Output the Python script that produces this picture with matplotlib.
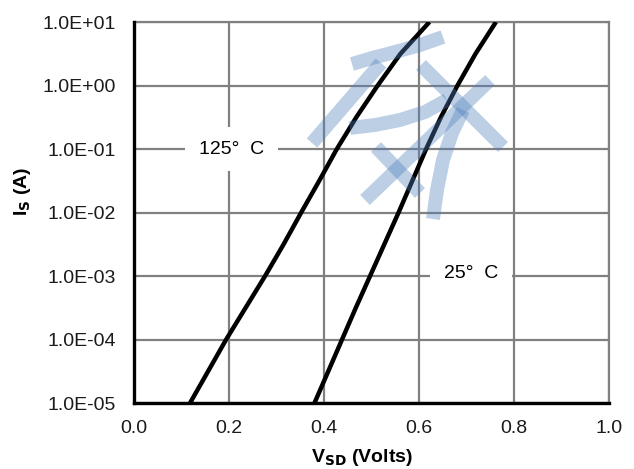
import matplotlib
matplotlib.use("Agg")
import matplotlib.pyplot as plt
import numpy as np

# Data
current = [1e-5, 10**-4.5, 1e-4, 10**-3.5, 1e-3, 10**-2.5, 1e-2, 10**-1.5, 1e-1, 10**-0.5, 1e0, 10**0.5, 1e1]
v_125 = [0.118, 0.156, 0.194, 0.235, 0.276, 0.315, 0.352, 0.390, 0.427, 0.468, 0.513, 0.561, 0.622]
v_25 = [0.380, 0.409, 0.438, 0.467, 0.497, 0.527, 0.557, 0.586, 0.615, 0.646, 0.681, 0.719, 0.762]
x_ticks = [0.0, 0.2, 0.4, 0.6, 0.8, 1.0]
x_tick_labels = ["0.0", "0.2", "0.4", "0.6", "0.8", "1.0"]
y_ticks = [1e-5, 1e-4, 1e-3, 1e-2, 1e-1, 1e0, 1e1]
y_tick_labels = ["1.0E-05", "1.0E-04", "1.0E-03", "1.0E-02", "1.0E-01", "1.0E+00", "1.0E+01"]
label_125 = "125°  C"
label_25 = "25°  C"

plt.rcParams['font.family'] = ['Liberation Sans', 'DejaVu Sans']

W, H = 634, 469
fig = plt.figure(figsize=(W / 100, H / 100), dpi=100)
ax = fig.add_axes([134 / W, 1 - 403 / H, (609 - 134) / W, (403 - 22) / H])

grid_c = '#808080'
ax.set_xlim(0, 1.0)
ax.set_yscale('log')
ax.set_ylim(1e-5, 1e1)
ax.set_xticks(x_ticks)
ax.set_xticklabels(x_tick_labels)
ax.set_yticks(y_ticks)
ax.set_yticklabels(y_tick_labels)
ax.minorticks_off()
ax.tick_params(axis='y', length=0, labelsize=14, pad=13, colors='#1a1a1a')
ax.tick_params(axis='x', length=0, labelsize=14, pad=12, colors='#1a1a1a')
ax.grid(True, color=grid_c, linewidth=1.6, zorder=0)
ax.set_axisbelow(True)
for s in ['top', 'right']:
    ax.spines[s].set_color(grid_c)
    ax.spines[s].set_linewidth(1.6)
for s in ['left', 'bottom']:
    ax.spines[s].set_color('black')
    ax.spines[s].set_linewidth(2.4)
    ax.spines[s].set_zorder(5)

ax.plot(v_125, current, color='black', linewidth=3.2, zorder=3, solid_capstyle='butt',
        solid_joinstyle='round')
ax.plot(v_25, current, color='black', linewidth=3.2, zorder=3, solid_capstyle='butt',
        solid_joinstyle='round')

ax.text(0.206, 1e-1, label_125, fontsize=14, ha='center', va='center', zorder=4,
        bbox=dict(facecolor='white', edgecolor='none', pad=10))
ax.text(0.71, 1.1e-3, label_25, fontsize=14, ha='center', va='center', zorder=4,
        bbox=dict(facecolor='white', edgecolor='none', pad=10))

ax.set_xlabel(r"V$_{\mathbf{SD}}$ (Volts)", fontsize=14, fontweight='bold', labelpad=8)
ax.xaxis.set_label_coords(0.48, -0.115)
ax.set_ylabel(r"I$_{\mathbf{S}}$ (A)", fontsize=14, fontweight='bold', labelpad=8)
ax.yaxis.set_label_coords(-0.212, 0.555)

# Watermark overlay (decorative strokes, pixel coordinates)
ov = fig.add_axes([0, 0, 1, 1], zorder=10)
ov.set_xlim(0, W)
ov.set_ylim(H, 0)
ov.axis('off')
ov.patch.set_alpha(0)
wm = dict(color='#4F81BD', alpha=0.38, linewidth=10, solid_capstyle='butt', solid_joinstyle='round')
strokes = [
    ([352, 372, 395, 420, 443], [64, 58, 52, 45, 37]),
    ([381, 312], [63, 143]),
    ([350, 375, 400, 425, 447], [128, 125, 120, 112, 100]),
    ([490, 365], [80, 200]),
    ([421, 503], [65, 147]),
    ([376, 420], [147, 193]),
    ([463, 452, 443, 437, 433], [110, 133, 160, 190, 219]),
    ([168, 195], [-3, -3]),
    ([230, 242], [-4, -4]),
]
for xs, ys in strokes:
    ov.plot(xs, ys, **wm)

fig.savefig('out.png', dpi=100)
